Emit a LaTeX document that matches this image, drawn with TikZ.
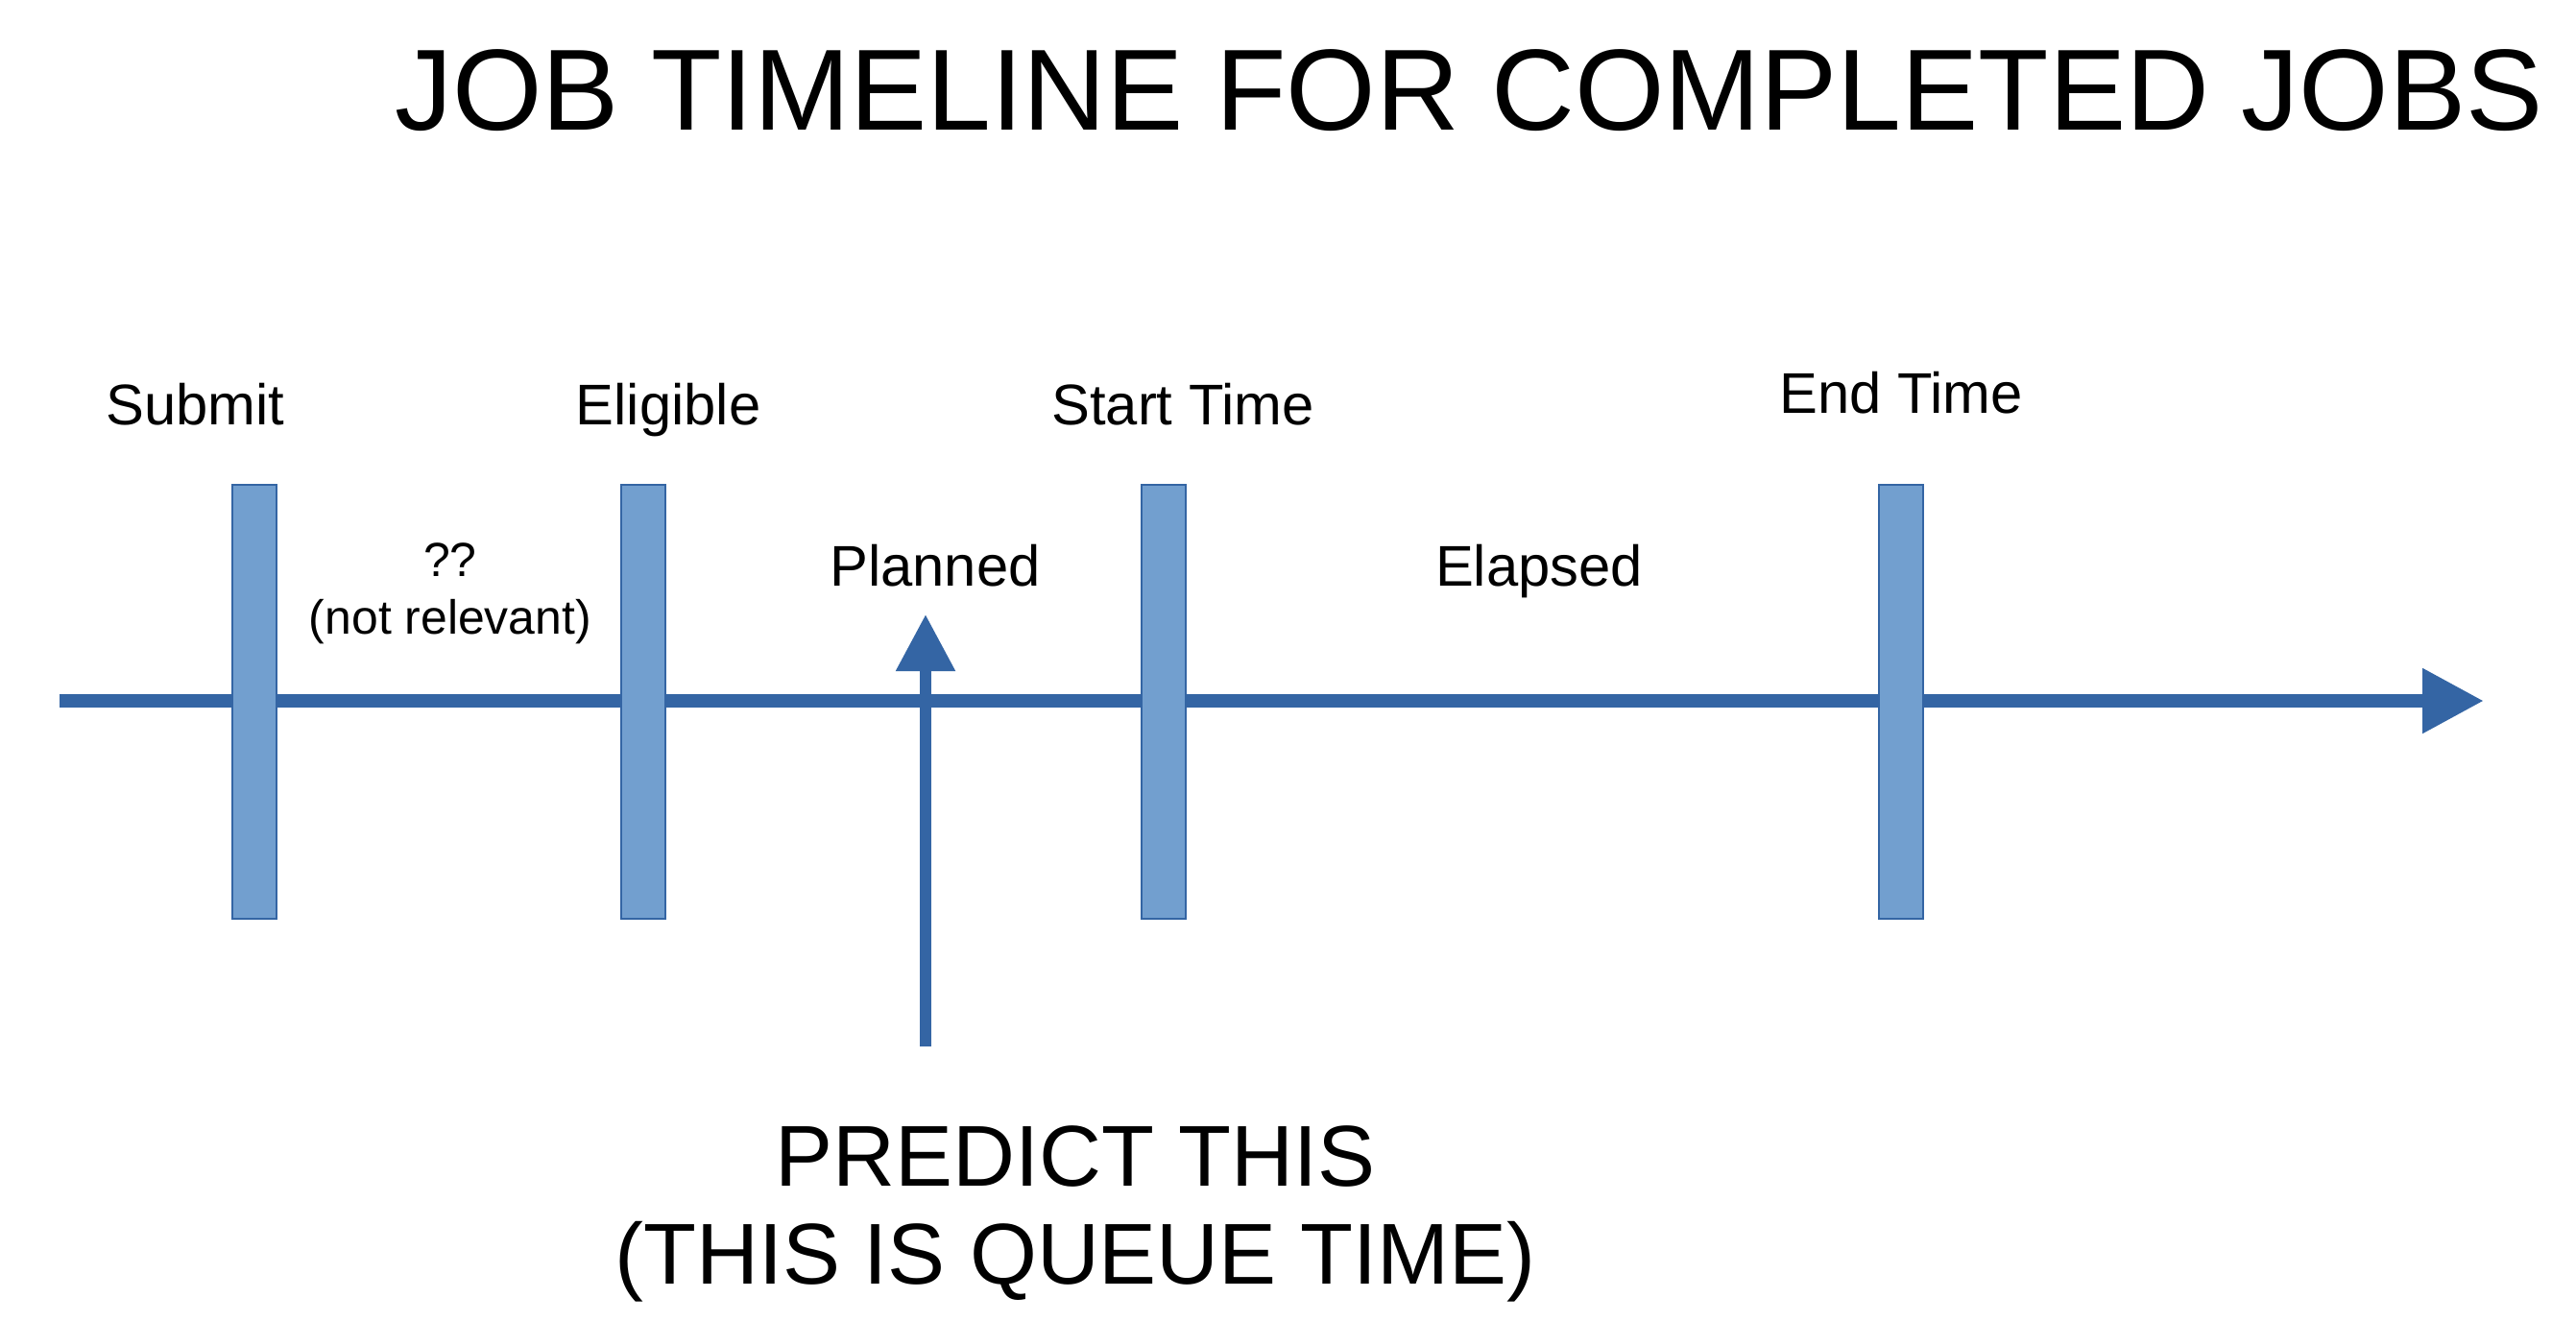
\documentclass[tikz,border=0pt]{standalone}
\usepackage{fontspec}
\setmainfont{Liberation Sans}
\definecolor{lineblue}{HTML}{3465A4}
\definecolor{barblue}{HTML}{729FCF}
\usepackage{tikz}
\usetikzlibrary{arrows.meta, positioning}
\tikzset{
  bar/.style={draw=lineblue, fill=barblue, line width=.6pt, minimum width=4.6mm,
              minimum height=45.2mm, inner sep=0pt},
  axis/.style={-{Triangle[length=6.4mm,width=6.4mm]}, line width=4.2pt, color=lineblue},
  pointer/.style={-{Triangle[length=5.9mm,width=5.9mm]}, line width=3.4pt, color=lineblue},
  lbl/.style={font=\fontsize{17}{20.4}\selectfont, anchor=base, inner sep=0pt},
}
\begin{document}
\begin{tikzpicture}[x=1cm,y=1cm,
note/.style={font=\fontsize{14.2}{16.8}\selectfont,align=center,anchor=base,inner sep=0pt}]
\useasboundingbox (0,0) rectangle (26.83,-13.76);
\node[anchor=base,inner sep=0pt,font=\fontsize{34.2}{40}\selectfont] (title) at (15.30,-1.35) {JOB TIMELINE FOR COMPLETED JOBS};
\coordinate (t0) at (0.62,-7.30);
\coordinate (t1) at (25.87,-7.30);
\draw[axis] (t0)--(t1);
\foreach \n/\x in {submit/2.65,eligible/6.70,start/12.12,end/19.80}{
\node[bar] (\n) at (\x,-7.31) {};}
\node[lbl] (lsubmit) at (2.035,-4.42) {Submit};
\node[lbl] (leligible) at (6.96,-4.42) {Eligible};
\node[lbl] (lstart) at (12.32,-4.42) {Start Time};
\node[lbl] (lend) at (19.80,-4.30) {End Time};
\node[lbl] (lplanned) at (9.74,-6.10) {Planned};
\node[lbl] (lelapsed) at (16.03,-6.10) {Elapsed};
\node[note] (lwait) at (4.69,-6.60) {??\\(not relevant)};
\coordinate (p0) at (9.64,-10.90);
\coordinate (p1) at (9.64,-6.40);
\draw[pointer] (p0)--(p1);
\node[anchor=base,inner sep=0pt,align=center,font=\fontsize{25.6}{29}\selectfont] (predict) at (11.20,-13.37) {PREDICT THIS\\(THIS IS QUEUE TIME)};
\end{tikzpicture}
\end{document}
